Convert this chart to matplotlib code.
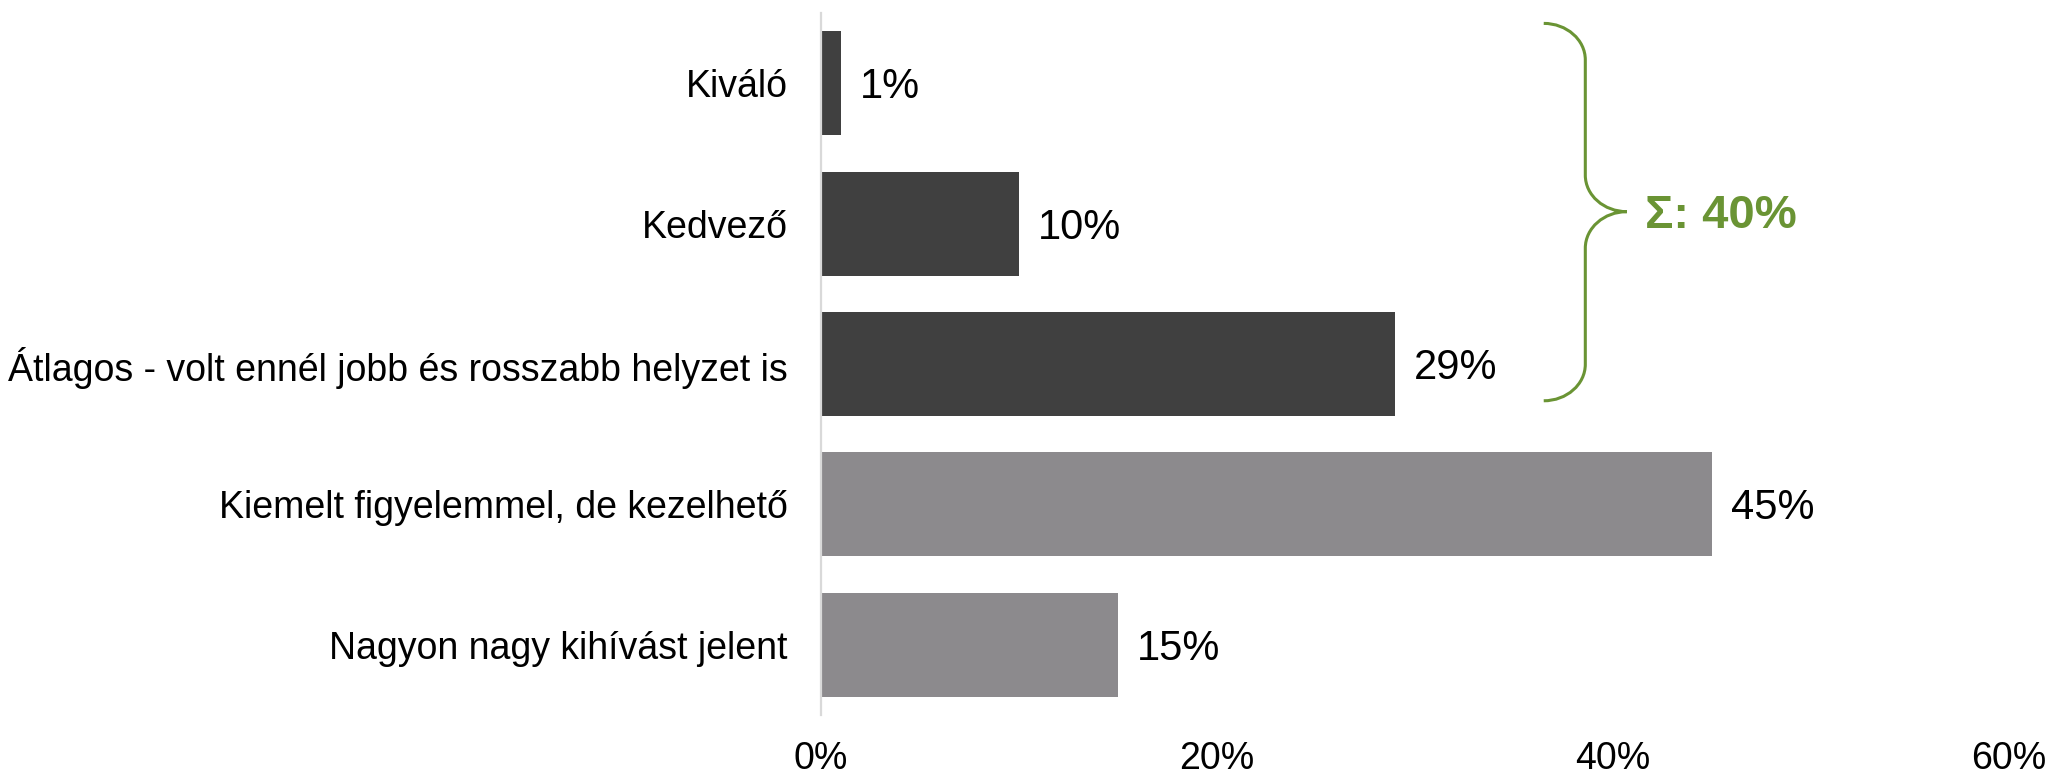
import numpy as np
from matplotlib import pyplot as plt
from matplotlib.path import Path
from matplotlib.patches import PathPatch

plt.rcParams['font.family'] = ['Liberation Sans', 'DejaVu Sans']

categories = ["Kiváló", "Kedvező", "Átlagos - volt ennél jobb és rosszabb helyzet is",
              "Kiemelt figyelemmel, de kezelhető", "Nagyon nagy kihívást jelent"]
values = [1, 10, 29, 45, 15]
bar_colors = ["#404040", "#404040", "#404040", "#8c8a8d", "#8c8a8d"]
xticks = [0, 20, 40, 60]
sum_label = "Σ: 40%"
green = "#6a9434"

fig = plt.figure(figsize=(20.57, 7.79), dpi=100)
ax = fig.add_axes([0.3991, 0.0822, 0.5776, 0.9011])

y = np.arange(len(categories))
ax.barh(y, values, height=0.74, color=bar_colors)

for yi, v in zip(y, values):
    ax.annotate(f"{v}%", (v, yi), xytext=(19, -4), textcoords="offset pixels",
                va="center", ha="left", fontsize=30, color="black")

ax.set_xlim(0, 60)
ax.set_ylim(len(categories) - 0.5, -0.5)
ax.set_yticks(y)
ax.set_yticklabels(categories, fontsize=27)
ax.set_xticks(xticks)
ax.set_xticklabels([f"{t}%" for t in xticks], fontsize=27)
ax.tick_params(axis="y", length=0, pad=24)
ax.tick_params(axis="x", length=0, pad=19)
for s in ["top", "right", "bottom"]:
    ax.spines[s].set_visible(False)
ax.spines["left"].set_color("#d9d9d9")
ax.spines["left"].set_linewidth(1.6)

# curly brace over the first three bars
x0, x1, x2 = 36.5, 38.6, 40.7
ytop, ytip, ybot = -0.426, 0.915, 2.262
ry = 0.26
k = 0.552
verts = [
    (x0, ytop),
    (x0 + k * (x1 - x0), ytop), (x1, ytop + ry - k * ry), (x1, ytop + ry),
    (x1, ytip - ry),
    (x1, ytip - ry + k * ry), (x2 - k * (x2 - x1), ytip), (x2, ytip),
    (x2 - k * (x2 - x1), ytip), (x1, ytip + ry - k * ry), (x1, ytip + ry),
    (x1, ybot - ry),
    (x1, ybot - ry + k * ry), (x0 + k * (x1 - x0), ybot), (x0, ybot),
]
codes = [Path.MOVETO,
         Path.CURVE4, Path.CURVE4, Path.CURVE4,
         Path.LINETO,
         Path.CURVE4, Path.CURVE4, Path.CURVE4,
         Path.CURVE4, Path.CURVE4, Path.CURVE4,
         Path.LINETO,
         Path.CURVE4, Path.CURVE4, Path.CURVE4]
ax.add_patch(PathPatch(Path(verts, codes), fill=False, edgecolor=green, lw=2.2, clip_on=False))
ax.text(41.6, ytip + 0.03, sum_label, color=green, fontsize=34, fontweight="bold",
        va="center", ha="left")

fig.savefig("out.png", dpi=100)
